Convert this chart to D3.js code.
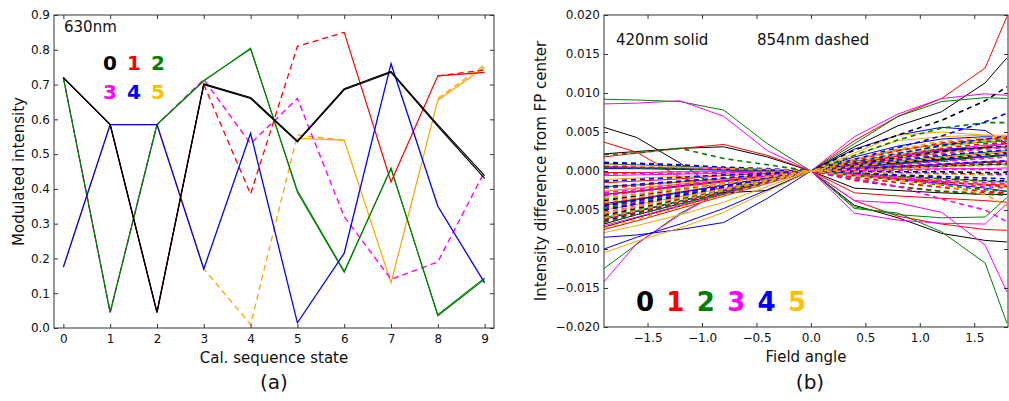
<!DOCTYPE html>
<html>
<head>
<meta charset="utf-8">
<script src="https://cdn.jsdelivr.net/npm/d3@7"></script>
<style>
  body { margin: 0; background: #fff; }
  text { font-family: "DejaVu Sans", sans-serif; fill: #111; }
</style>
</head>
<body>
<div id="container"></div>
<script>
const w = 1009,
  h = 401;

const colors = ['#000000', '#ff0000', '#008000', '#ff00ff', '#0000ff', '#ffa500'];
const legendColors = ['#000000', '#ff0000', '#008000', '#ff00ff', '#0000ff', '#ffc000'];
const legendLabels = ['0', '1', '2', '3', '4', '5'];

// ---- panel (a): modulated intensity per calibration state ----
const states = [0, 1, 2, 3, 4, 5, 6, 7, 8, 9];
const xTicksA = [0, 1, 2, 3, 4, 5, 6, 7, 8, 9];
const yTicksA = [0, 0.1, 0.2, 0.3, 0.4, 0.5, 0.6, 0.7, 0.8, 0.9];

const blackA = [0.72, 0.585, 0.045, 0.70, 0.66, 0.535, 0.685, 0.735, 0.58, 0.43];
const blackB = [0.72, 0.585, 0.045, 0.702, 0.663, 0.538, 0.688, 0.738, 0.584, 0.438];
const redSolid = [0.72, 0.585, 0.045, 0.70, null, null, 0.85, 0.42, 0.725, 0.735];
const redDashed = [null, null, null, 0.70, 0.385, 0.81, 0.85, null, 0.725, 0.742];
const greenA = [0.72, 0.045, 0.585, 0.71, 0.805, 0.39, 0.16, 0.46, 0.035, 0.14];
const greenB = [0.72, 0.045, 0.585, 0.712, 0.802, 0.395, 0.163, 0.458, 0.038, 0.144];
const magentaDashed = [0.72, 0.045, 0.585, 0.715, 0.53, 0.66, 0.32, 0.14, 0.19, 0.45];
const blueSolid = [0.175, 0.585, 0.585, 0.17, 0.56, 0.015, 0.215, 0.76, 0.35, 0.13];
const orangeSolid = [0.175, 0.585, 0.585, 0.17, null, 0.545, 0.54, 0.13, 0.655, 0.75];
const orangeDashed = [null, null, 0.585, 0.17, 0.01, 0.555, 0.54, null, 0.66, 0.757];

// ---- panel (b): intensity difference vs field angle (units of 1e-3) ----
const fieldAngles = [-1.9, -1.6, -1.2, -0.8, -0.4, 0, 0.4, 0.8, 1.2, 1.6, 1.8];
const xTicksB = [-1.5, -1.0, -0.5, 0, 0.5, 1.0, 1.5];
const yTicksB = [-20, -15, -10, -5, 0, 5, 10, 15, 20];

const blackSolidB = [
  [5.6, 4.3, 1.0, -2.8, -2.5, 0, -4.4, -6.0, -8.0, -8.9, -9.1],
  [2.2, 2.5, 2.9, 3.1, 1.8, 0, 3.1, 5.8, 7.6, 11.3, 14.5],
  [-6.8, -5.6, -4.2, -2.8, -1.4, 0, 0.3, 0.6, 0.8, 1.1, 1.2],
  [-3.0, -2.6, -1.9, -1.3, -0.6, 0, -2.2, -2.5, -2.8, -3.0, -3.0],
  [0.4, 0.4, 0.3, 0.2, 0.1, 0, 0.5, 0.9, 1.4, 1.8, 2.0],
  [-7.2, -6.0, -4.5, -3.0, -1.5, 0, 1.0, 1.9, 2.6, 3.0, 3.1]
];
const blackDashedB = [
  [-5.0, -4.2, -3.2, -2.1, -1.0, 0, 0.2, 0.4, 0.6, 0.8, 0.9],
  [-4.4, -3.7, -2.8, -1.8, -0.9, 0, 2.7, 4.6, 6.5, 9.0, 10.8],
  [1.0, 0.9, 0.7, 0.4, 0.2, 0, -0.3, -0.6, -0.9, -1.2, -1.3],
  [-5.7, -4.8, -3.6, -2.4, -1.2, 0, 0.6, 1.1, 1.6, 2.1, 2.3],
  [-3.8, -3.2, -2.4, -1.6, -0.8, 0, 0.9, 1.7, 2.5, 3.0, 3.2],
  [-6.4, -5.4, -4.0, -2.7, -1.3, 0, 0.0, -0.1, -0.1, -0.2, -0.2]
];
const redSolidB = [
  [-3.0, -2.6, -2.0, -1.4, -0.7, 0, 3.9, 7.0, 9.3, 13.2, 19.8],
  [3.7, 2.4, -0.8, -2.5, -1.4, 0, -3.8, -5.8, -6.8, -7.5, -7.6],
  [1.8, 2.3, 2.9, 3.4, 2.0, 0, -2.8, -3.2, -3.5, -3.8, -4.0],
  [-7.5, -6.4, -4.8, -3.2, -1.6, 0, 0.6, 1.2, 1.7, 2.2, 2.4],
  [-1.5, -1.3, -1.0, -0.6, -0.3, 0, 0.8, 1.6, 2.4, 3.1, 3.5],
  [-0.2, -0.2, -0.1, -0.1, 0.0, 0, -0.5, -1.0, -1.4, -1.7, -1.8]
];
const redDashedB = [
  [-4.6, -3.9, -2.9, -1.9, -1.0, 0, 0.3, 0.5, 0.8, 1.0, 1.1],
  [-5.5, -4.6, -3.5, -2.3, -1.1, 0, -0.5, -1.0, -1.4, -1.8, -2.0],
  [-2.2, -1.9, -1.4, -0.9, -0.5, 0, -1.2, -2.0, -2.6, -2.8, -2.9],
  [-6.3, -5.3, -4.0, -2.6, -1.3, 0, 1.0, 2.0, 2.9, 3.5, 3.6],
  [-4.2, -3.5, -2.6, -1.8, -0.9, 0, 1.4, 2.6, 3.6, 4.1, 4.2],
  [0.6, 0.5, 0.4, 0.2, 0.1, 0, -0.8, -1.5, -2.1, -2.6, -2.8]
];
const greenSolidB = [
  [9.2, 9.1, 8.9, 7.8, 3.5, 0, 3.5, 7.0, 8.9, 9.4, 9.3],
  [-12.5, -9.4, -5.4, -2.5, -1.0, 0, -4.8, -5.4, -7.8, -11.8, -19.5],
  [-2.0, -1.8, -1.4, -1.0, -0.5, 0, -4.6, -5.6, -6.0, -5.9, -3.4],
  [-6.0, -5.1, -3.8, -2.5, -1.3, 0, 0.2, 0.4, 0.6, 0.8, 0.9],
  [0.9, 0.8, 0.6, 0.4, 0.2, 0, 0.7, 1.3, 1.9, 2.4, 2.6],
  [-4.4, -3.7, -2.8, -1.8, -0.9, 0, 1.5, 2.7, 3.4, 3.7, 3.8]
];
const greenDashedB = [
  [2.1, 2.3, 2.9, 1.6, 0.8, 0, 2.0, 4.0, 5.5, 6.2, 6.2],
  [-4.8, -4.0, -3.0, -2.0, -1.0, 0, -0.3, -0.7, -1.0, -1.3, -1.4],
  [-5.9, -5.0, -3.7, -2.5, -1.2, 0, 0.5, 0.9, 1.3, 1.8, 2.0],
  [0.5, 0.4, 0.3, 0.2, 0.1, 0, -1.0, -2.0, -2.6, -3.0, -3.1],
  [-3.6, -3.0, -2.3, -1.5, -0.8, 0, 1.2, 2.3, 3.2, 3.8, 4.0],
  [-6.6, -5.6, -4.2, -2.8, -1.4, 0, -0.6, -1.2, -1.8, -2.4, -2.6]
];
const magentaSolidB = [
  [8.6, 8.7, 9.0, 7.0, 2.6, 0, 4.4, 7.3, 9.3, 9.9, 9.7],
  [-14.2, -9.3, -5.6, -2.4, -0.9, 0, -5.4, -6.3, -6.7, -6.8, -4.2],
  [-2.6, -2.2, -1.7, -1.1, -0.6, 0, -3.8, -4.1, -5.3, -9.5, -15.5],
  [-0.6, -0.5, -0.4, -0.3, -0.1, 0, 1.0, 1.9, 2.7, 3.3, 3.5],
  [-7.0, -5.9, -4.4, -2.9, -1.5, 0, 0.1, 0.2, 0.3, 0.3, 0.4],
  [0.6, 0.5, 0.4, 0.3, 0.1, 0, 0.3, 0.6, 0.9, 1.2, 1.3]
];
const magentaDashedB = [
  [-2.8, -2.4, -1.8, -1.2, -0.6, 0, -1.0, -2.0, -3.6, -5.0, -6.5],
  [-4.0, -3.4, -2.5, -1.7, -0.8, 0, 0.4, 0.8, 1.2, 1.6, 1.8],
  [-0.4, -0.3, -0.3, -0.2, -0.1, 0, -0.4, -0.8, -1.2, -1.5, -1.6],
  [-5.3, -4.5, -3.4, -2.2, -1.1, 0, 0.8, 1.5, 2.2, 2.8, 3.0],
  [-4.6, -3.9, -2.9, -1.9, -1.0, 0, 0.1, 0.1, 0.2, 0.2, 0.2],
  [-3.2, -2.7, -2.0, -1.3, -0.7, 0, -0.5, -1.1, -1.6, -2.0, -2.2]
];
const blueSolidB = [
  [-8.5, -8.2, -7.5, -6.6, -3.5, 0, 2.8, 4.6, 5.6, 5.2, 3.5],
  [-10.0, -8.5, -6.8, -4.8, -2.4, 0, 0.5, 1.0, 1.5, 1.9, 2.1],
  [0.3, 0.3, 0.2, 0.1, 0.1, 0, 1.2, 2.1, 2.8, 3.0, 3.0],
  [-4.2, -3.6, -2.7, -1.8, -0.9, 0, -0.6, -1.1, -1.6, -2.2, -2.6],
  [-6.2, -5.2, -3.9, -2.6, -1.3, 0, 1.8, 3.2, 4.1, 4.4, 4.4]
];
const blueDashedB = [
  [1.1, 1.0, 0.8, 0.5, 0.3, 0, 1.5, 3.0, 4.5, 6.3, 7.4],
  [-1.3, -1.1, -0.8, -0.5, -0.3, 0, 0.3, 0.6, 0.9, 1.2, 1.3],
  [-5.0, -4.2, -3.1, -2.1, -1.0, 0, -0.1, -0.2, -0.3, -0.4, -0.4],
  [-2.0, -1.7, -1.3, -0.9, -0.4, 0, 1.1, 2.2, 3.3, 4.1, 4.4],
  [-4.5, -3.8, -2.8, -1.9, -0.9, 0, 0.7, 1.4, 2.0, 2.5, 2.7],
  [0.9, 0.8, 0.6, 0.4, 0.2, 0, -0.2, -0.5, -0.7, -0.9, -1.0]
];
const orangeSolidB = [
  [-10.5, -9.0, -7.3, -5.3, -2.6, 0, 2.3, 4.6, 5.0, 4.6, 4.2],
  [-7.9, -7.0, -5.6, -4.0, -2.0, 0, 2.0, 3.9, 4.4, 4.6, 4.6],
  [-1.1, -0.9, -0.7, -0.5, -0.2, 0, 0.9, 1.7, 2.4, 2.9, 3.1],
  [-5.0, -4.3, -3.3, -2.2, -1.1, 0, -0.4, -0.8, -1.3, -1.8, -2.0],
  [-2.6, -2.2, -1.6, -1.1, -0.5, 0, 1.4, 2.6, 3.5, 4.0, 4.1]
];
const orangeDashedB = [
  [-7.3, -6.2, -4.6, -3.1, -1.5, 0, 1.1, 2.1, 3.0, 3.9, 4.3],
  [-3.5, -3.0, -2.2, -1.5, -0.7, 0, 0.6, 1.2, 1.7, 2.2, 2.4],
  [0.8, 0.7, 0.5, 0.3, 0.2, 0, -0.6, -1.2, -1.8, -3.0, -4.5],
  [-6.0, -5.1, -3.8, -2.5, -1.3, 0, 0.2, 0.3, 0.5, 0.7, 0.7],
  [-5.4, -4.6, -3.4, -2.3, -1.1, 0, 1.5, 2.8, 3.8, 4.3, 4.5],
  [-4.0, -3.4, -2.5, -1.7, -0.8, 0, -0.1, -0.3, -0.4, -0.5, -0.6]
];

const svg = d3.select('#container').append('svg').attr('width', w).attr('height', h);

function drawFrame(g, box, x, y, xTicks, yTicks, xFmt, yFmt) {
  g.append('g').attr('transform', 'translate(0,' + box.bottom + ')')
    .call(d3.axisBottom(x).tickValues(xTicks).tickSize(-4).tickPadding(6).tickFormat(xFmt));
  g.append('g').attr('transform', 'translate(0,' + box.top + ')')
    .call(d3.axisTop(x).tickValues(xTicks).tickSize(-4).tickFormat(''));
  g.append('g').attr('transform', 'translate(' + box.left + ',0)')
    .call(d3.axisLeft(y).tickValues(yTicks).tickSize(-4).tickPadding(4).tickFormat(yFmt));
  g.append('g').attr('transform', 'translate(' + box.right + ',0)')
    .call(d3.axisRight(y).tickValues(yTicks).tickSize(-4).tickFormat(''));
  g.selectAll('.domain').remove();
  g.selectAll('.tick line').attr('stroke', '#333');
  g.selectAll('.tick text').style('font-size', '12px').style('font-family', '"DejaVu Sans", sans-serif').attr('fill', '#222');
  g.append('rect')
    .attr('x', box.left).attr('y', box.top)
    .attr('width', box.right - box.left).attr('height', box.bottom - box.top)
    .attr('fill', 'none').attr('stroke', '#333').attr('stroke-width', 1);
}

// ---- panel (a) ----
const boxA = { left: 54, right: 494, top: 15, bottom: 328 };
const xA = d3.scaleLinear().domain([-0.2, 9.2]).range([boxA.left, boxA.right]);
const yA = d3.scaleLinear().domain([0, 0.9]).range([boxA.bottom, boxA.top]);
const gA = svg.append('g');

const lineA = d3.line()
  .defined((d) => d != null)
  .x((d, i) => xA(states[i]))
  .y((d) => yA(d));

const seriesA = [
  { v: orangeSolid, c: colors[5], dash: false, sw: 1.2 },
  { v: orangeDashed, c: colors[5], dash: true, sw: 1.3 },
  { v: magentaDashed, c: colors[3], dash: true, sw: 1.4 },
  { v: redSolid, c: colors[1], dash: false, sw: 1.2 },
  { v: redDashed, c: colors[1], dash: true, sw: 1.3 },
  { v: greenA, c: colors[2], dash: false, sw: 1.1 },
  { v: greenB, c: colors[2], dash: false, sw: 1.1 },
  { v: blueSolid, c: colors[4], dash: false, sw: 1.3 },
  { v: blackA, c: colors[0], dash: false, sw: 1.2 },
  { v: blackB, c: colors[0], dash: false, sw: 1.2 }
];

gA.selectAll('path.series')
  .data(seriesA)
  .enter()
  .append('path')
  .attr('class', 'series')
  .attr('d', (d) => lineA(d.v))
  .attr('fill', 'none')
  .attr('stroke', (d) => d.c)
  .attr('stroke-width', (d) => d.sw)
  .attr('stroke-dasharray', (d) => (d.dash ? '6,4' : null));

drawFrame(gA, boxA, xA, yA, xTicksA, yTicksA, d3.format('d'), d3.format('.1f'));

gA.append('text').text('630nm').attr('x', 64).attr('y', 32).style('font-size', '15px');

gA.selectAll('text.leg')
  .data(legendLabels)
  .enter()
  .append('text')
  .attr('class', 'leg')
  .text((d) => d)
  .attr('x', (d, i) => 110 + (i % 3) * 24)
  .attr('y', (d, i) => (i < 3 ? 70 : 99))
  .attr('text-anchor', 'middle')
  .style('font-size', '20px')
  .style('font-weight', 'bold')
  .style('fill', (d, i) => legendColors[i]);

gA.append('text').text('Cal. sequence state')
  .attr('x', (boxA.left + boxA.right) / 2).attr('y', 363)
  .attr('text-anchor', 'middle').style('font-size', '15px');
gA.append('text').text('Modulated intensity')
  .attr('transform', 'rotate(-90)')
  .attr('x', -(boxA.top + boxA.bottom) / 2).attr('y', 24)
  .attr('text-anchor', 'middle').style('font-size', '15px');
gA.append('text').text('(a)')
  .attr('x', 274).attr('y', 389)
  .attr('text-anchor', 'middle').style('font-size', '20px');

// ---- panel (b) ----
const boxB = { left: 604, right: 1008, top: 15, bottom: 327 };
const xB = d3.scaleLinear().domain([-1.9, 1.81]).range([boxB.left, boxB.right]);
const yB = d3.scaleLinear().domain([-20, 20]).range([boxB.bottom, boxB.top]);
const gB = svg.append('g');

svg.append('clipPath').attr('id', 'clipB').append('rect')
  .attr('x', boxB.left).attr('y', boxB.top)
  .attr('width', boxB.right - boxB.left).attr('height', boxB.bottom - boxB.top);

const lineB = d3.line()
  .x((d, i) => xB(fieldAngles[i]))
  .y((d) => yB(d));

const solidSets = [blackSolidB, redSolidB, greenSolidB, magentaSolidB, blueSolidB, orangeSolidB];
const dashedSets = [blackDashedB, redDashedB, greenDashedB, magentaDashedB, blueDashedB, orangeDashedB];

const linesB = [];
solidSets.forEach((set, ci) => set.forEach((v) => linesB.push({ v: v, c: colors[ci], dash: false })));
dashedSets.forEach((set, ci) => set.forEach((v) => linesB.push({ v: v, c: colors[ci], dash: true })));

gB.append('g')
  .attr('clip-path', 'url(#clipB)')
  .selectAll('path')
  .data(linesB)
  .enter()
  .append('path')
  .attr('d', (d) => lineB(d.v))
  .attr('fill', 'none')
  .attr('stroke', (d) => d.c)
  .attr('stroke-width', (d) => (d.dash ? 1.6 : 1))
  .attr('stroke-dasharray', (d) => (d.dash ? '5,4' : null));

drawFrame(gB, boxB, xB, yB, xTicksB, yTicksB, d3.format('.1f'), (d) => d3.format('.3f')(d / 1000));

gB.append('text').text('420nm solid').attr('x', 616).attr('y', 45).style('font-size', '15px');
gB.append('text').text('854nm dashed').attr('x', 757).attr('y', 45).style('font-size', '15px');

gB.selectAll('text.leg')
  .data(legendLabels)
  .enter()
  .append('text')
  .attr('class', 'leg')
  .text((d) => d)
  .attr('x', (d, i) => 645 + i * 30.4)
  .attr('y', 311)
  .attr('text-anchor', 'middle')
  .style('font-size', '26px')
  .style('font-weight', 'bold')
  .style('fill', (d, i) => legendColors[i]);

gB.append('text').text('Field angle')
  .attr('x', (boxB.left + boxB.right) / 2).attr('y', 362)
  .attr('text-anchor', 'middle').style('font-size', '15px');
gB.append('text').text('Intensity difference from FP center')
  .attr('transform', 'rotate(-90)')
  .attr('x', -(boxB.top + boxB.bottom) / 2).attr('y', 546)
  .attr('text-anchor', 'middle').style('font-size', '15px');
gB.append('text').text('(b)')
  .attr('x', 810).attr('y', 389)
  .attr('text-anchor', 'middle').style('font-size', '20px');
</script>
</body>
</html>
